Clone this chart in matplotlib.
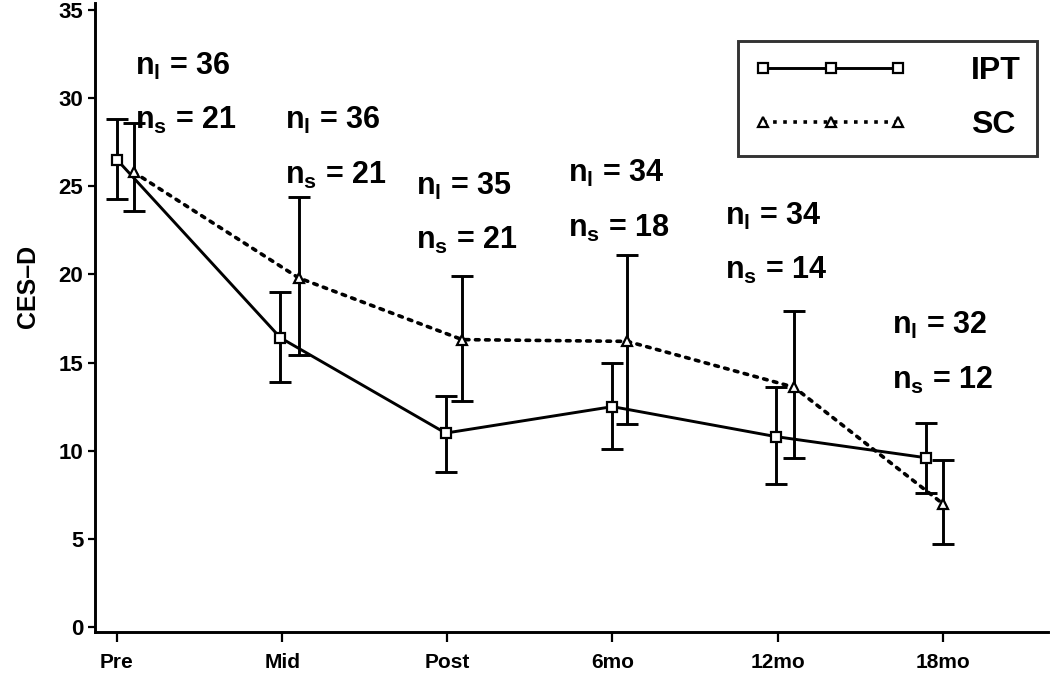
import numpy as np
import matplotlib.pyplot as plt
from matplotlib.lines import Line2D

plt.rcParams['font.family'] = ['Liberation Sans', 'DejaVu Sans']
plt.rcParams['font.weight'] = 'bold'
plt.rcParams['mathtext.fontset'] = 'custom'
plt.rcParams['mathtext.rm'] = 'Liberation Sans:bold'
plt.rcParams['mathtext.bf'] = 'Liberation Sans:bold'

# data
timepoints = ["Pre", "Mid", "Post", "6mo", "12mo", "18mo"]
ipt_x = [0.0, 0.99, 1.99, 3.0, 3.99, 4.9]
ipt_mean = [26.5, 16.4, 11.0, 12.5, 10.8, 9.6]
ipt_lo = [24.3, 13.9, 8.8, 10.1, 8.1, 7.6]
ipt_hi = [28.8, 19.0, 13.1, 15.0, 13.6, 11.6]
sc_x = [0.1, 1.1, 2.09, 3.09, 4.1, 5.0]
sc_mean = [25.8, 19.8, 16.3, 16.2, 13.6, 7.0]
sc_lo = [23.6, 15.4, 12.8, 11.5, 9.6, 4.7]
sc_hi = [28.6, 24.4, 19.9, 21.1, 17.9, 9.5]
n_ipt = [36, 36, 35, 34, 34, 32]
n_sc = [21, 21, 21, 18, 14, 12]
# where the n labels sit (x in category units, y in CES-D units)
n_x = [0.11, 1.02, 1.81, 2.73, 3.68, 4.69]
n_y = [31.8, 28.7, 25.0, 25.7, 23.3, 17.1]

fig = plt.figure(figsize=(10.5, 6.8), dpi=100)
ax = fig.add_axes([0.0905, 0.07, 0.908, 0.926])

lw = 2.1
ipt_err = [np.array(ipt_mean) - np.array(ipt_lo), np.array(ipt_hi) - np.array(ipt_mean)]
sc_err = [np.array(sc_mean) - np.array(sc_lo), np.array(sc_hi) - np.array(sc_mean)]

ax.errorbar(ipt_x, ipt_mean, yerr=ipt_err, fmt='none', ecolor='black',
            elinewidth=lw, capsize=8, capthick=lw, zorder=2)
ax.errorbar(sc_x, sc_mean, yerr=sc_err, fmt='none', ecolor='black',
            elinewidth=lw, capsize=8, capthick=lw, zorder=2)
ax.plot(ipt_x, ipt_mean, color='black', lw=lw, marker='s', ms=6.5,
        mfc='white', mec='black', mew=1.6, zorder=3)
ax.plot(sc_x, sc_mean, color='black', lw=2.6, ls=(0, (1, 1.8)),
        dash_capstyle='round', marker='^', ms=6.5, mfc='white', mec='black',
        mew=1.6, zorder=3)

for x, y, a, b in zip(n_x, n_y, n_ipt, n_sc):
    ax.text(x, y, r"n$_{\mathrm{l}}$ = %d" % a, fontsize=22, fontweight='bold',
            va='center', ha='left')
    ax.text(x, y - 3.1, r"n$_{\mathrm{s}}$ = %d" % b, fontsize=22, fontweight='bold',
            va='center', ha='left')

ax.set_xlim(-0.133, 5.64)
ax.set_ylim(-0.3, 35.4)
ax.set_xticks(range(len(timepoints)))
ax.set_xticklabels(timepoints)
ax.set_yticks(range(0, 36, 5))
ax.tick_params(axis='both', labelsize=16, width=1.6, length=5, direction='out')
ax.tick_params(axis='x', length=7, pad=8, labelsize=15)
for lab in ax.get_xticklabels() + ax.get_yticklabels():
    lab.set_fontweight('bold')
ax.set_ylabel("CES\u2013D", fontsize=18, fontweight='bold')
ax.yaxis.set_label_coords(-0.058, 0.55)
for s in ['top', 'right']:
    ax.spines[s].set_visible(False)
for s in ['left', 'bottom']:
    ax.spines[s].set_linewidth(lw)

handles = [
    Line2D([], [], color='black', lw=lw, marker='s', ms=7, mfc='white', mec='black', mew=1.6),
    Line2D([], [], color='black', lw=2.6, ls=(0, (1, 1.8)), marker='^', ms=7,
           mfc='white', mec='black', mew=1.6),
]
leg = ax.legend(handles, ["IPT", "SC"], loc='upper right', bbox_to_anchor=(0.988, 0.94),
                numpoints=3, handlelength=4.8, handletextpad=2.0, borderpad=0.5,
                labelspacing=0.75, fancybox=False, prop={'size': 23, 'weight': 'bold'},
                borderaxespad=0)
leg.get_frame().set_edgecolor('black')
leg.get_frame().set_linewidth(lw)

fig.savefig("out.png", dpi=100)
